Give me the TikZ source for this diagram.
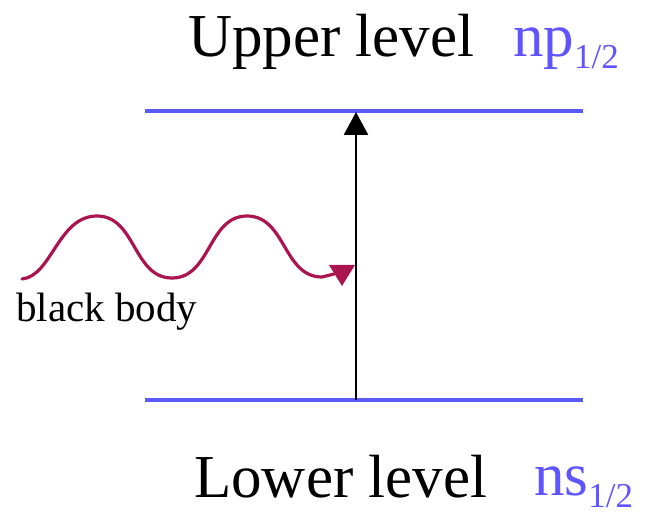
\documentclass[tikz,border=0pt]{standalone}
\usepackage{fontspec}
\newfontfamily\timesfont{Liberation Serif}
\setmainfont{Liberation Serif}
\usetikzlibrary{arrows.meta}
\definecolor{levelblue}{RGB}{90,90,250}
\definecolor{textblue}{RGB}{95,85,255}
\definecolor{wavered}{RGB}{170,20,80}
\tikzset{
  level/.style={draw=levelblue, line width=3.5pt},
  bigtext/.style={anchor=base west, inner sep=0pt, font=\timesfont\fontsize{61}{70}\selectfont},
  smalltext/.style={anchor=base west, inner sep=0pt, font=\timesfont\fontsize{41}{48}\selectfont},
  wave/.style={draw=wavered, line width=3.2pt, line cap=round},
}
\newcommand{\subhalf}{\raisebox{-12pt}{\timesfont\fontsize{35}{40}\selectfont 1/2}}
\begin{document}
\begin{tikzpicture}[x=1pt,y=-1pt]
\useasboundingbox (0,0) rectangle (649,516);
% levels
\coordinate (ul) at (145,111);
\coordinate (ur) at (583,111);
\coordinate (ll) at (145,400);
\coordinate (lr) at (583,400);
\draw[level] (ul) -- (ur);
\draw[level] (ll) -- (lr);
% transition arrow
\coordinate (a0) at (356,400);
\coordinate (a1) at (356,112);
\draw[line width=2.5pt, -{Triangle[length=23pt,width=24pt]}] (a0) -- (a1);
% black body wave
\draw[wave] (22,279) .. controls (52,276) and (58,216) .. (97,216)
  .. controls (136,216) and (133,278) .. (172,278)
  .. controls (211,278) and (208,216) .. (247,216)
  .. controls (286,216) and (283,277) .. (322,277) -- (334,274);
\fill[wavered] (329,265) -- (355,265) -- (342,286) -- cycle;
% texts
\node[bigtext] (up) at (188,57) {Upper level};
\node[bigtext, text=textblue] (np) at (513,57) {np\subhalf};
\node[bigtext] (lo) at (194,497) {Lower level};
\node[bigtext, text=textblue] (ns) at (534,495) {ns\subhalf};
\node[smalltext] (bb) at (16,322) {black body};
\end{tikzpicture}
\end{document}
